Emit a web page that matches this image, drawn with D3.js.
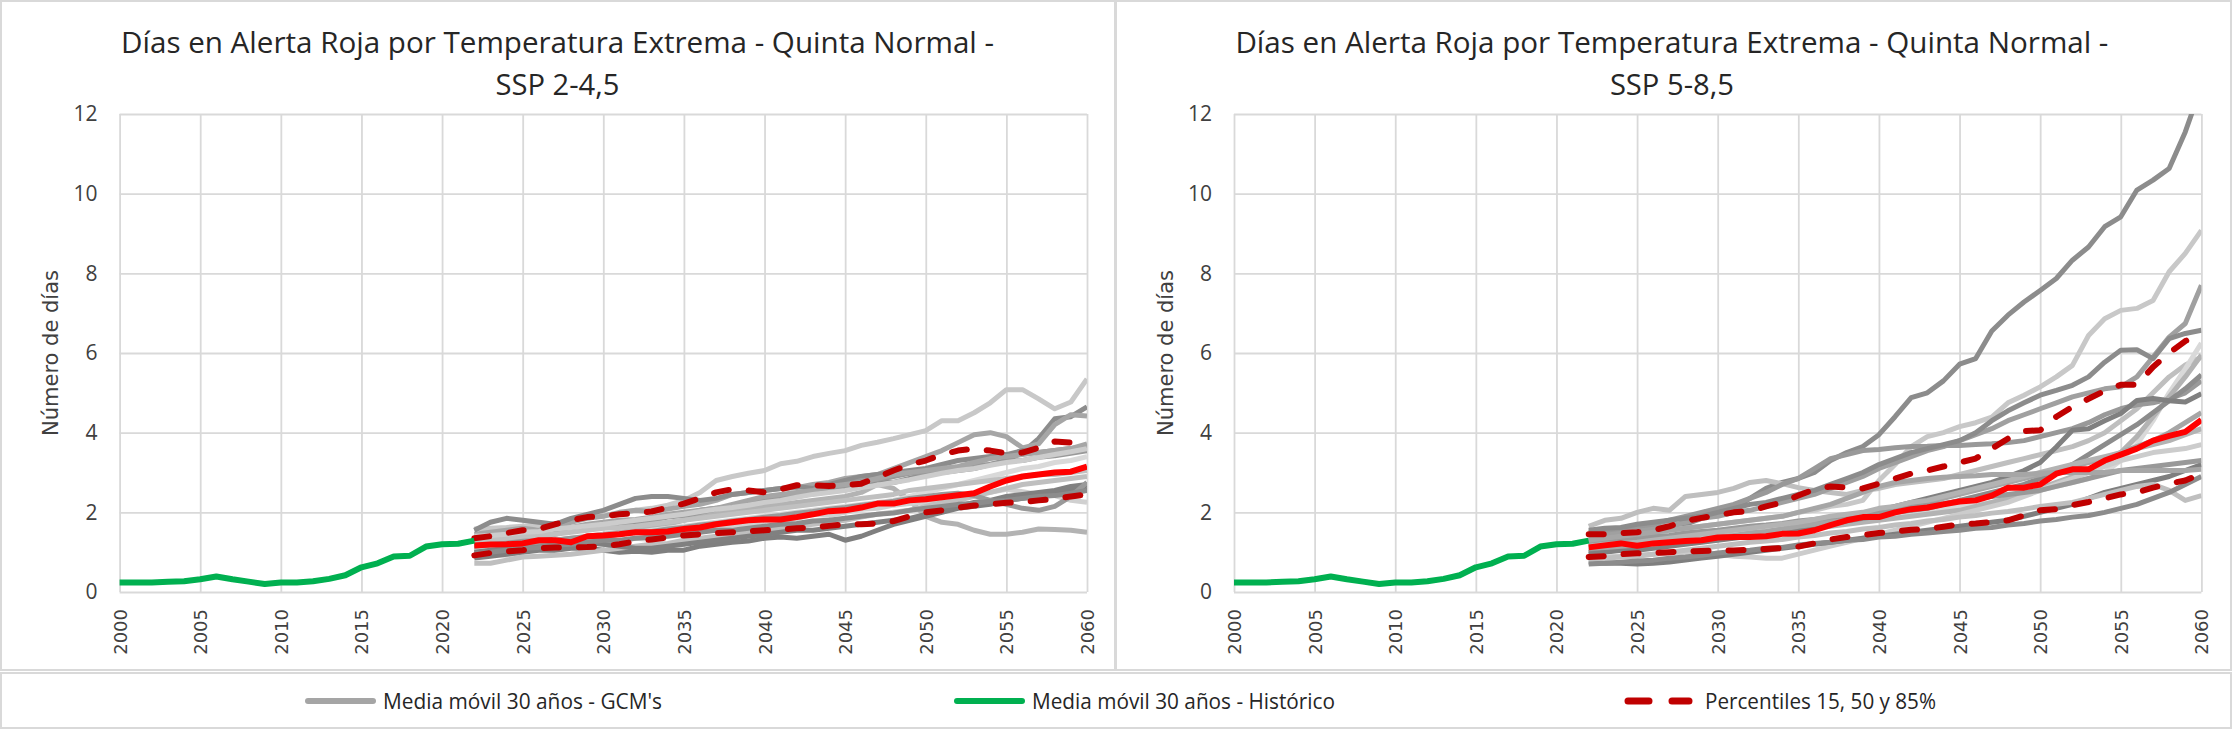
<!DOCTYPE html>
<html><head><meta charset="utf-8">
<script src="https://cdn.jsdelivr.net/npm/d3@7"></script>
<style>html,body{margin:0;padding:0;background:#fff;}svg{display:block}</style>
</head><body>
<svg id="chart" width="2232" height="730"></svg>
<script>
// ---------------- DATA ----------------
const xTicks = [2000,2005,2010,2015,2020,2025,2030,2035,2040,2045,2050,2055,2060];
const yTicks = [0,2,4,6,8,10,12];
const histYears = d3.range(2000, 2023);
const histValues = [0.24,0.24,0.24,0.26,0.27,0.32,0.39,0.32,0.26,0.20,0.24,0.24,0.27,0.33,0.42,0.62,0.72,0.89,0.91,1.14,1.20,1.21,1.29];
const projYears = d3.range(2022, 2061);

const titleLine1 = "Días en Alerta Roja por Temperatura Extrema - Quinta Normal -";
const titles2 = ["SSP 2-4,5", "SSP 5-8,5"];
const yLabel = "Número de días";
const legendLabels = ["Media móvil 30 años - GCM's", "Media móvil 30 años - Histórico", "Percentiles 15, 50 y 85%"];

// SSP 2-4.5 GCM moving averages (2022..2060)
const gcm245_1 = [1.58,1.60,1.62,1.65,1.68,1.72,1.78,1.85,1.92,1.98,2.05,2.10,2.18,2.30,2.50,2.80,2.90,2.98,3.05,3.22,3.28,3.40,3.48,3.55,3.68,3.76,3.85,3.95,4.05,4.30,4.30,4.50,4.75,5.08,5.08,4.85,4.60,4.77,5.35];
const gcm245_2 = [1.25,1.30,1.40,1.35,1.30,1.45,1.55,1.65,1.70,1.75,1.72,1.80,1.90,1.95,2.05,2.10,2.15,2.20,2.30,2.35,2.40,2.50,2.55,2.60,2.70,2.80,2.75,2.85,2.95,3.00,3.05,3.10,3.20,3.30,3.50,3.85,4.35,4.40,4.65];
const gcm245_3 = [1.45,1.50,1.55,1.60,1.55,1.65,1.75,1.85,1.90,2.00,2.05,2.02,2.08,2.15,2.20,2.30,2.45,2.50,2.55,2.60,2.62,2.70,2.75,2.85,2.90,2.95,3.10,3.25,3.40,3.55,3.75,3.95,4.00,3.90,3.62,3.72,4.20,4.45,4.42];
const gcm245_4 = [1.10,1.15,1.20,1.25,1.22,1.30,1.35,1.40,1.45,1.50,1.55,1.60,1.70,1.80,1.90,2.00,2.05,2.10,2.15,2.20,2.25,2.30,2.35,2.40,2.50,2.70,2.60,2.30,1.90,1.75,1.70,1.55,1.45,1.45,1.50,1.58,1.57,1.55,1.50];
const gcm245_5 = [0.90,0.95,0.92,1.00,1.08,1.05,1.12,1.22,1.20,1.28,1.35,1.32,1.42,1.50,1.55,1.58,1.68,1.70,1.78,1.82,1.85,1.95,1.92,2.00,2.08,2.10,2.18,2.22,2.25,2.38,2.40,2.48,2.50,2.58,2.52,2.45,2.42,2.30,2.25];
const gcm245_6 = [0.85,0.90,0.95,1.00,1.05,1.05,1.10,1.10,1.05,1.00,1.02,1.00,1.05,1.05,1.15,1.20,1.25,1.28,1.35,1.38,1.35,1.40,1.45,1.30,1.40,1.55,1.70,1.80,1.90,2.00,2.10,2.15,2.20,2.30,2.35,2.40,2.45,2.55,2.60];
const gcm245_7 = [1.55,1.75,1.85,1.80,1.75,1.70,1.85,1.95,2.05,2.20,2.35,2.40,2.40,2.35,2.30,2.35,2.45,2.50,2.55,2.60,2.65,2.60,2.70,2.80,2.90,2.95,3.00,3.05,3.10,3.20,3.30,3.35,3.40,3.45,3.55,3.50,3.55,3.60,3.65];
const gcm245_8 = [0.72,0.72,0.80,0.88,0.90,0.92,0.95,1.00,1.05,1.10,1.15,1.20,1.22,1.30,1.35,1.40,1.45,1.50,1.55,1.60,1.65,1.70,1.75,1.80,1.88,1.95,2.00,2.05,2.15,2.25,2.30,2.40,2.50,2.60,2.70,2.75,2.80,2.85,2.90];
const gcm245_9 = [1.20,1.28,1.25,1.35,1.42,1.48,1.55,1.58,1.66,1.70,1.78,1.80,1.88,1.92,2.00,2.08,2.15,2.22,2.35,2.38,2.45,2.52,2.62,2.68,2.80,2.82,2.90,2.98,3.00,3.08,3.10,3.18,3.20,3.28,3.30,3.38,3.42,3.48,3.55];
const gcm245_10 = [1.05,1.10,1.10,1.15,1.20,1.25,1.30,1.35,1.40,1.45,1.48,1.55,1.60,1.65,1.70,1.75,1.80,1.85,1.90,1.95,2.00,2.05,2.10,2.15,2.20,2.25,2.30,2.40,2.50,2.60,2.70,2.80,2.90,3.00,3.10,3.15,3.25,3.30,3.40];
const gcm245_11 = [1.35,1.38,1.42,1.50,1.55,1.60,1.62,1.70,1.75,1.80,1.82,1.88,1.95,2.00,2.05,2.10,2.20,2.30,2.40,2.45,2.50,2.55,2.65,2.70,2.75,2.85,2.95,3.00,3.05,3.10,3.15,3.25,3.35,3.40,3.45,3.50,3.55,3.60,3.72];
const gcm245_12 = [1.00,1.05,1.10,1.12,1.15,1.20,1.22,1.25,1.20,1.15,1.10,1.10,1.15,1.20,1.25,1.30,1.35,1.40,1.45,1.50,1.55,1.55,1.60,1.65,1.70,1.75,1.80,1.85,1.95,2.05,2.15,2.25,2.30,2.40,2.45,2.50,2.55,2.65,2.70];
const gcm245_13 = [1.30,1.32,1.35,1.40,1.42,1.45,1.50,1.55,1.60,1.62,1.65,1.70,1.75,1.80,1.85,1.90,1.95,2.00,2.05,2.10,2.15,2.20,2.25,2.30,2.35,2.40,2.45,2.55,2.60,2.65,2.70,2.75,2.80,2.85,2.90,2.95,2.95,3.00,3.05];
const gcm245_14 = [1.15,1.18,1.20,1.22,1.25,1.30,1.35,1.38,1.40,1.45,1.50,1.52,1.58,1.62,1.68,1.72,1.78,1.82,1.88,1.92,1.98,2.02,2.08,2.12,2.18,2.22,2.28,2.35,2.40,2.45,2.48,2.42,2.30,2.20,2.10,2.05,2.15,2.40,2.75];
const gcm245_15 = [1.40,1.42,1.45,1.50,1.52,1.58,1.62,1.66,1.70,1.75,1.80,1.85,1.90,1.95,2.02,2.08,2.12,2.18,2.25,2.30,2.38,2.45,2.50,2.55,2.62,2.68,2.75,2.82,2.90,2.98,3.05,3.10,3.18,3.25,3.30,3.38,3.45,3.52,3.60];
const gcm245_16 = [0.95,1.00,1.05,1.10,1.12,1.18,1.20,1.25,1.30,1.30,1.35,1.38,1.40,1.45,1.50,1.55,1.55,1.60,1.65,1.70,1.72,1.78,1.80,1.85,1.90,1.95,1.98,2.05,2.10,2.15,2.20,2.22,2.28,2.30,2.35,2.40,2.42,2.48,2.55];
const gcm245 = [gcm245_1,gcm245_2,gcm245_3,gcm245_4,gcm245_5,gcm245_6,gcm245_7,gcm245_8,gcm245_9,gcm245_10,gcm245_11,gcm245_12,gcm245_13,gcm245_14,gcm245_15,gcm245_16];
const gcmColors245 = ["#c8c8c8","#8c8c8c","#a6a6a6","#b3b3b3","#d0d0d0","#7f7f7f","#8c8c8c","#bfbfbf","#999999","#d9d9d9","#a6a6a6","#808080","#c0c0c0","#9a9a9a","#cccccc","#8c8c8c"];
const p15_245 = [0.92,0.98,1.02,1.05,1.10,1.12,1.12,1.13,1.15,1.20,1.27,1.32,1.37,1.42,1.45,1.48,1.50,1.52,1.55,1.57,1.60,1.62,1.66,1.70,1.70,1.72,1.78,1.90,2.00,2.05,2.12,2.17,2.20,2.24,2.26,2.30,2.34,2.40,2.45];
const p50_245 = [1.17,1.19,1.20,1.22,1.30,1.30,1.25,1.40,1.42,1.45,1.50,1.50,1.52,1.58,1.62,1.70,1.75,1.80,1.82,1.82,1.88,1.95,2.03,2.05,2.12,2.22,2.22,2.30,2.33,2.38,2.43,2.48,2.65,2.80,2.90,2.95,3.00,3.02,3.15];
const p85_245 = [1.35,1.40,1.48,1.55,1.58,1.70,1.80,1.88,1.90,1.95,1.98,2.02,2.12,2.22,2.35,2.50,2.58,2.55,2.50,2.58,2.68,2.68,2.66,2.68,2.72,2.88,3.05,3.20,3.30,3.45,3.55,3.60,3.55,3.48,3.50,3.62,3.78,3.75,3.88];

// SSP 5-8.5 GCM moving averages (2022..2060)
const gcm585_1 = [1.30,1.35,1.40,1.45,1.55,1.60,1.70,1.85,1.95,2.10,2.35,2.60,2.75,2.85,3.00,3.30,3.50,3.65,3.95,4.40,4.88,5.00,5.30,5.72,5.86,6.55,6.95,7.28,7.57,7.87,8.33,8.66,9.17,9.42,10.09,10.34,10.63,11.55,12.70];
const gcm585_2 = [1.35,1.40,1.45,1.50,1.55,1.55,1.60,1.65,1.70,1.75,1.80,1.85,1.90,2.00,2.05,2.15,2.20,2.30,2.80,3.20,3.65,3.90,4.00,4.15,4.25,4.39,4.75,4.94,5.15,5.40,5.69,6.44,6.86,7.07,7.12,7.32,8.04,8.50,9.08];
const gcm585_3 = [1.65,1.80,1.85,2.00,2.10,2.05,2.40,2.45,2.50,2.60,2.75,2.80,2.72,2.62,2.55,2.50,2.45,2.55,2.60,2.70,2.75,2.80,2.85,2.95,3.05,3.15,3.25,3.35,3.45,3.55,3.65,3.80,4.00,4.30,4.60,5.00,5.40,5.70,5.90];
const gcm585_4 = [1.40,1.45,1.50,1.55,1.60,1.65,1.75,1.85,1.90,2.00,2.05,2.15,2.25,2.35,2.45,2.60,2.75,2.90,3.10,3.25,3.40,3.55,3.65,3.80,3.95,4.10,4.30,4.45,4.60,4.75,4.90,5.00,5.10,5.15,5.40,5.90,6.40,6.74,7.70];
const gcm585_5 = [1.50,1.55,1.60,1.65,1.70,1.80,1.90,2.00,2.10,2.20,2.35,2.50,2.70,2.85,3.10,3.35,3.45,3.55,3.58,3.62,3.65,3.66,3.68,3.68,3.70,3.72,3.75,3.80,3.90,4.00,4.10,4.25,4.45,4.60,4.70,4.75,4.85,5.00,5.30];
const gcm585_6 = [1.55,1.60,1.62,1.70,1.75,1.80,1.85,1.90,2.00,2.10,2.20,2.25,2.35,2.45,2.55,2.70,2.85,3.00,3.20,3.35,3.50,3.60,3.70,3.80,4.00,4.30,4.55,4.75,4.94,5.06,5.19,5.40,5.77,6.07,6.08,5.86,6.36,6.49,6.57];
const gcm585_7 = [1.20,1.22,1.25,1.30,1.30,1.35,1.40,1.42,1.45,1.50,1.52,1.55,1.60,1.65,1.70,1.75,1.80,1.85,1.90,1.95,2.00,2.05,2.10,2.15,2.20,2.25,2.35,2.45,2.55,2.65,2.75,2.85,3.00,3.30,3.70,4.30,5.00,5.60,6.25];
const gcm585_8 = [1.05,1.08,1.10,1.15,1.20,1.22,1.25,1.30,1.35,1.40,1.42,1.45,1.50,1.55,1.60,1.65,1.70,1.75,1.80,1.85,1.90,1.95,2.00,2.05,2.15,2.25,2.35,2.45,2.60,2.75,2.90,3.00,3.20,3.50,3.90,4.40,4.90,5.40,5.95];
const gcm585_9 = [1.00,1.05,1.05,1.10,1.15,1.20,1.25,1.30,1.35,1.40,1.45,1.50,1.55,1.60,1.65,1.70,1.78,1.85,1.90,2.00,2.05,2.10,2.20,2.30,2.40,2.50,2.60,2.70,2.85,3.00,3.20,3.45,3.70,3.95,4.20,4.50,4.80,5.10,5.45];
const gcm585_10 = [0.95,1.00,1.05,1.05,1.10,1.15,1.20,1.25,1.30,1.35,1.40,1.45,1.50,1.55,1.65,1.75,1.85,1.95,2.05,2.15,2.25,2.35,2.45,2.55,2.65,2.75,2.90,3.05,3.25,3.64,4.06,4.10,4.30,4.48,4.81,4.86,4.80,4.77,4.98];
const gcm585_11 = [1.10,1.12,1.15,1.18,1.20,1.25,1.28,1.32,1.38,1.42,1.48,1.52,1.58,1.65,1.70,1.78,1.85,1.92,2.00,2.08,2.15,2.25,2.35,2.45,2.55,2.65,2.75,2.85,2.95,3.05,3.15,3.25,3.35,3.50,3.65,3.80,4.00,4.25,4.50];
const gcm585_12 = [0.85,0.88,0.90,0.92,0.95,0.98,1.00,1.02,0.95,0.90,0.88,0.85,0.85,0.95,1.05,1.15,1.25,1.35,1.45,1.55,1.65,1.75,1.85,1.95,2.05,2.15,2.25,2.40,2.55,2.70,2.85,3.00,3.15,3.30,3.40,3.50,3.55,3.60,3.70];
const gcm585_13 = [0.75,0.72,0.72,0.70,0.72,0.75,0.80,0.85,0.90,0.95,1.00,1.05,1.10,1.15,1.20,1.25,1.30,1.35,1.40,1.45,1.50,1.55,1.60,1.65,1.70,1.75,1.80,1.90,2.00,2.10,2.20,2.35,2.50,2.60,2.70,2.80,2.90,3.05,3.20];
const gcm585_14 = [0.80,0.85,0.88,0.90,0.95,1.00,1.05,1.10,1.15,1.20,1.25,1.28,1.32,1.38,1.42,1.48,1.52,1.58,1.62,1.68,1.72,1.78,1.82,1.88,1.92,1.98,2.02,2.08,2.15,2.20,2.25,2.35,2.45,2.55,2.65,2.70,2.55,2.30,2.42];
const gcm585_15 = [0.70,0.72,0.75,0.78,0.80,0.85,0.88,0.92,0.98,1.02,1.05,1.10,1.12,1.18,1.22,1.25,1.30,1.32,1.38,1.40,1.45,1.48,1.52,1.55,1.60,1.62,1.68,1.72,1.78,1.82,1.88,1.92,2.00,2.10,2.20,2.35,2.50,2.70,2.90];
const gcm585_16 = [1.25,1.28,1.30,1.35,1.40,1.42,1.48,1.52,1.55,1.60,1.65,1.68,1.72,1.78,1.82,1.88,1.92,1.98,2.02,2.08,2.12,2.18,2.22,2.28,2.32,2.40,2.45,2.50,2.55,2.65,2.75,2.85,2.95,3.05,3.10,3.15,3.20,3.25,3.30];
const gcm585_17 = [1.15,1.20,1.22,1.25,1.30,1.35,1.40,1.45,1.50,1.55,1.60,1.65,1.70,1.75,1.82,1.90,1.95,2.00,2.10,2.15,2.25,2.30,2.40,2.50,2.60,2.70,2.80,2.90,3.00,3.10,3.20,3.30,3.40,3.50,3.60,3.70,3.80,3.95,4.10];
const gcm585_18 = [1.30,1.35,1.40,1.45,1.50,1.55,1.60,1.65,1.70,1.75,1.80,1.85,1.90,2.00,2.10,2.20,2.35,2.50,2.65,2.75,2.80,2.85,2.88,2.90,2.92,2.95,2.95,2.95,2.98,3.00,3.00,3.00,3.00,3.05,3.05,3.05,3.05,3.05,3.08];
const gcm585 = [gcm585_1,gcm585_2,gcm585_3,gcm585_4,gcm585_5,gcm585_6,gcm585_7,gcm585_8,gcm585_9,gcm585_10,gcm585_11,gcm585_12,gcm585_13,gcm585_14,gcm585_15,gcm585_16,gcm585_17,gcm585_18];
const gcmColors585 = ["#8c8c8c","#c8c8c8","#bfbfbf","#a0a0a0","#999999","#8c8c8c","#d9d9d9","#b3b3b3","#8c8c8c","#808080","#a6a6a6","#cccccc","#7f7f7f","#bfbfbf","#8c8c8c","#999999","#b3b3b3","#a6a6a6"];
const p15_585 = [0.88,0.90,0.95,0.97,0.98,1.00,1.02,1.03,1.04,1.04,1.06,1.08,1.10,1.14,1.22,1.32,1.38,1.43,1.48,1.52,1.56,1.58,1.64,1.70,1.72,1.76,1.80,1.92,2.05,2.08,2.18,2.26,2.35,2.45,2.50,2.62,2.72,2.80,2.97];
const p50_585 = [1.12,1.17,1.22,1.16,1.22,1.25,1.28,1.30,1.37,1.38,1.38,1.40,1.46,1.47,1.55,1.68,1.80,1.88,1.88,2.00,2.08,2.12,2.20,2.27,2.30,2.42,2.62,2.62,2.70,2.97,3.08,3.08,3.30,3.45,3.60,3.80,3.92,4.02,4.32];
const p85_585 = [1.45,1.45,1.48,1.50,1.55,1.65,1.78,1.86,1.93,2.00,2.03,2.15,2.25,2.42,2.58,2.65,2.62,2.60,2.72,2.85,2.97,3.05,3.15,3.25,3.35,3.60,3.85,4.04,4.06,4.40,4.65,4.85,5.05,5.20,5.20,5.65,6.00,6.30,6.48];

// ---------------- DRAW ----------------
const svg = d3.select("#chart");
const GRID = "#d9d9d9";
const TXT = "#404040";
const GREEN = "#00b050", RED = "#ff0000", DARKRED = "#c00000";

// frames
svg.append("rect").attr("x",1).attr("y",1).attr("width",1114).attr("height",669).attr("fill","none").attr("stroke",GRID).attr("stroke-width",2);
svg.append("rect").attr("x",1116).attr("y",1).attr("width",1115).attr("height",669).attr("fill","none").attr("stroke",GRID).attr("stroke-width",2);
svg.append("rect").attr("x",1).attr("y",673).attr("width",2230).attr("height",55).attr("fill","none").attr("stroke",GRID).attr("stroke-width",2);

function panel(idx, ox, gcm, colors, p15, p50, p85) {
  const g = svg.append("g");
  const x = d3.scaleLinear().domain([2000, 2060]).range([ox + 119.6, ox + 1087]);
  const y = d3.scaleLinear().domain([0, 12]).range([592, 114]);
  const [x0, x1] = x.range();
  const [y0, y1] = y.range();

  // title
  const cx = ox + 557.5;
  g.append("text").attr("x", cx).attr("y", 53).attr("text-anchor","middle")
    .attr("font-family","'Open Sans', sans-serif").attr("font-size",29).attr("fill","#262626")
    .attr("textLength",873).attr("lengthAdjust","spacingAndGlyphs").text(titleLine1);
  g.append("text").attr("x", cx).attr("y", 95).attr("text-anchor","middle")
    .attr("font-family","'Open Sans', sans-serif").attr("font-size",29).attr("fill","#262626")
    .attr("textLength",124).attr("lengthAdjust","spacingAndGlyphs").text(titles2[idx]);

  // y axis + horizontal grid
  const gy = g.append("g").attr("transform",`translate(${x0},0)`)
    .call(d3.axisLeft(y).tickValues(yTicks).tickSize(-(x1 - x0)).tickPadding(22).tickFormat(d3.format("d")));
  gy.select(".domain").remove();
  gy.selectAll(".tick line").attr("stroke",GRID).attr("stroke-width",1.8);
  gy.selectAll(".tick text").attr("font-family","'Open Sans', sans-serif").attr("font-size",21).attr("fill",TXT);

  // x axis + vertical grid
  const gx = g.append("g").attr("transform",`translate(0,${y0})`)
    .call(d3.axisBottom(x).tickValues(xTicks).tickSize(-(y0 - y1)).tickFormat(d3.format("d")));
  gx.select(".domain").remove();
  gx.selectAll(".tick line").attr("stroke",GRID).attr("stroke-width",1.8);
  gx.selectAll(".tick text").attr("font-family","'DejaVu Sans', sans-serif").attr("font-size",18).attr("fill",TXT)
    .attr("transform","rotate(-90)").attr("x",-17).attr("y",0).attr("dy","0.36em").attr("text-anchor","end");

  // y label
  g.append("text").attr("transform",`translate(${ox + 51},353) rotate(-90)`).attr("text-anchor","middle")
    .attr("dy","0.35em").attr("font-family","'DejaVu Sans', sans-serif").attr("font-size",21).attr("fill",TXT).text(yLabel);

  // clip
  const cid = "clip" + idx;
  g.append("clipPath").attr("id",cid).append("rect").attr("x",x0 - 10).attr("y",y1).attr("width",x1 - x0 + 10).attr("height",y0 - y1 + 10);
  const lines = g.append("g").attr("clip-path",`url(#${cid})`);
  const line = d3.line().x((d,i) => x(projYears[i])).y(d => y(d));

  lines.selectAll("path.gcm").data(gcm).join("path").attr("class","gcm")
    .attr("d", d => line(d)).attr("fill","none").attr("stroke",(d,i) => colors[i])
    .attr("stroke-width",5).attr("stroke-linejoin","round");

  [p15, p85].forEach(p => {
    lines.append("path").attr("d", line(p)).attr("fill","none").attr("stroke",DARKRED)
      .attr("stroke-width",6).attr("stroke-dasharray","15,20").attr("stroke-linecap","round").attr("stroke-linejoin","round");
  });
  lines.append("path").attr("d", line(p50)).attr("fill","none").attr("stroke",RED)
    .attr("stroke-width",6).attr("stroke-linejoin","round");

  const hline = d3.line().x((d,i) => x(histYears[i])).y(d => y(d));
  lines.append("path").attr("d", hline(histValues)).attr("fill","none").attr("stroke",GREEN)
    .attr("stroke-width",6).attr("stroke-linejoin","round");
}

panel(0, 0, gcm245, gcmColors245, p15_245, p50_245, p85_245);
panel(1, 1114.4, gcm585, gcmColors585, p15_585, p50_585, p85_585);

// legend
const lg = svg.append("g");
const ly = 701;
lg.append("line").attr("x1",308).attr("x2",373).attr("y1",ly).attr("y2",ly).attr("stroke","#a5a5a5").attr("stroke-width",6).attr("stroke-linecap","round");
lg.append("line").attr("x1",957).attr("x2",1022).attr("y1",ly).attr("y2",ly).attr("stroke",GREEN).attr("stroke-width",6).attr("stroke-linecap","round");
lg.append("line").attr("x1",1628).attr("x2",1689).attr("y1",ly).attr("y2",ly).attr("stroke",DARKRED).attr("stroke-width",7).attr("stroke-linecap","round").attr("stroke-dasharray","21,23");
const legendX = [383, 1032, 1705];
const legendW = [279, 303, 231];
legendLabels.forEach((t,i) => {
  lg.append("text").attr("x",legendX[i]).attr("y",709).attr("font-family","'Open Sans', sans-serif").attr("font-size",21)
    .attr("fill","#262626").attr("textLength",legendW[i]).attr("lengthAdjust","spacingAndGlyphs").text(t);
});
</script>
</body></html>
